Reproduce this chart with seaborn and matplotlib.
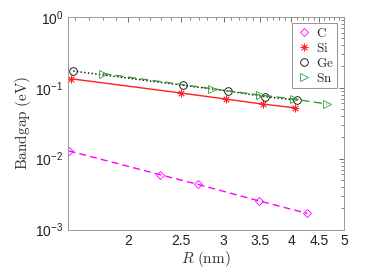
import numpy as np
import pandas as pd
import seaborn as sns
import matplotlib
matplotlib.use("Agg")
import matplotlib.pyplot as plt
from matplotlib.ticker import FixedLocator, NullFormatter, LogLocator, LogFormatterSciNotation

# values
r_c = [1.556, 2.29, 2.69, 3.48, 4.28]
gap_c = [0.0129, 0.00596, 0.00434, 0.00255, 0.00169]

r_si = [1.57, 2.51, 3.03, 3.54, 4.06]
gap_si = [0.134, 0.0841, 0.0692, 0.0588, 0.0521]

r_ge = [1.587, 2.53, 3.06, 3.58, 4.10]
gap_ge = [0.172, 0.108, 0.0898, 0.0746, 0.0670]

r_sn = [1.80, 2.86, 3.50, 4.05, 4.65]
gap_sn = [0.158, 0.0968, 0.0788, 0.0692, 0.0588]

x_ticks = [2, 2.5, 3, 3.5, 4, 4.5, 5]
x_tick_labels = ["2", "2.5", "3", "3.5", "4", "4.5", "5"]

sns.set_style("white")
plt.rcParams['font.family'] = ['Liberation Sans', 'DejaVu Sans']
plt.rcParams['mathtext.fontset'] = 'cm'

fig, ax = plt.subplots(figsize=(3.74, 2.80), dpi=100)
fig.subplots_adjust(left=0.181, right=0.92, top=0.94, bottom=0.18)

#each series: (x, y, label, colour, marker, marker size, linestyle, filled?)
series = [
    (r_c, gap_c, "C", "#ff00ff", "D", 4.5, (0, (5, 3)), False),
    (r_si, gap_si, "Si", "#ff2020", (8, 2, 0), 5.5, "-", True),
    (r_ge, gap_ge, "Ge", "#000000", "o", 5.5, ":", False),
    (r_sn, gap_sn, "Sn", "#3a9a3a", ">", 5.5, (0, (6, 3)), False),
]

for x, y, name, col, mk, ms, ls, filled in series:
    df = pd.DataFrame({"R": x, "gap": y})
    sns.lineplot(data=df, x="R", y="gap", ax=ax, color=col, linewidth=1.0,
                 linestyle=ls, legend=False)
    ax.plot(df["R"], df["gap"], linestyle="none", marker=mk, markersize=ms,
            markerfacecolor=col if filled else "none",
            markeredgecolor=col, markeredgewidth=0.6, label=r"$\mathrm{%s}$" % name)

ax.set_xscale("log")
ax.set_yscale("log")
ax.set_xlim(1.55, 5)
ax.set_ylim(1e-3, 1)

ax.xaxis.set_major_locator(FixedLocator(x_ticks))
ax.set_xticklabels(x_tick_labels)
ax.xaxis.set_minor_locator(FixedLocator(np.arange(1.6, 5.0, 0.1)))
ax.xaxis.set_minor_formatter(NullFormatter())
ax.yaxis.set_major_locator(LogLocator(base=10, numticks=10))
ax.yaxis.set_major_formatter(LogFormatterSciNotation())
ax.yaxis.set_minor_locator(LogLocator(base=10, subs=np.arange(2, 10), numticks=20))
ax.yaxis.set_minor_formatter(NullFormatter())

ax.tick_params(which="both", direction="in", top=True, right=True,
               color="#555555", labelsize=10, pad=3, labelcolor="#222222")
ax.tick_params(which="major", length=3.5, width=0.6)
ax.tick_params(which="minor", length=2, width=0.5)
for s in ax.spines.values():
    s.set_color("#999999")
    s.set_linewidth(0.7)

ax.set_xlabel(r"$R\ \mathrm{(nm)}$", fontsize=11, labelpad=1, color="#333333")
ax.set_ylabel(r"$\mathrm{Bandgap\ (eV)}$", fontsize=11, labelpad=2, color="#333333")

leg = ax.legend(loc="upper right", fontsize=9.5, frameon=True, fancybox=False,
                edgecolor="#666666", borderpad=0.25, handletextpad=0.3,
                labelspacing=0.15, handlelength=1.3, borderaxespad=0.5)
leg.get_frame().set_linewidth(0.6)

fig.savefig("out.png", dpi=100)
